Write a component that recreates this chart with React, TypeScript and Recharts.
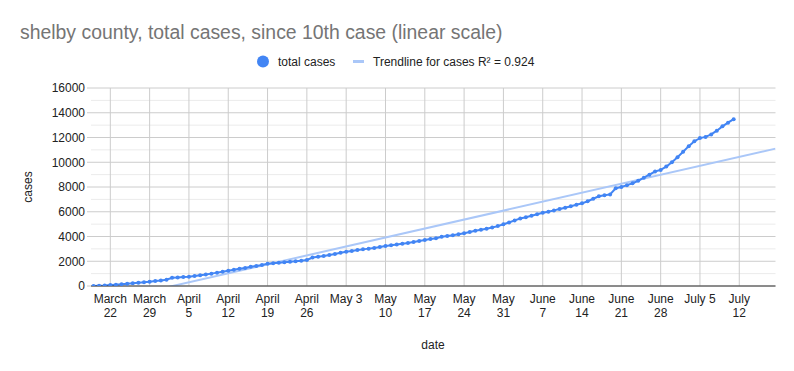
import React from "react";
import { LineChart, Line, XAxis, YAxis, CartesianGrid } from "recharts";

// daily total cases, starting March 19 (day 0 = 10th case)
const totalCases = [
  10, 25, 45, 80,
  110, 150, 190, 230, 270, 310, 350,
  400, 450, 500, 660, 690, 720, 750,
  800, 870, 930, 1000, 1080, 1160, 1240,
  1310, 1390, 1460, 1550, 1620, 1700, 1800,
  1840, 1880, 1920, 1960, 2000, 2040, 2100,
  2300, 2360, 2430, 2500, 2580, 2680, 2770,
  2830, 2900, 2960, 3020, 3080, 3150, 3230,
  3300, 3360, 3420, 3480, 3550, 3640, 3720,
  3790, 3860, 3980, 4040, 4100, 4180, 4260,
  4360, 4460, 4540, 4620, 4720, 4840, 4990,
  5130, 5300, 5450, 5560, 5680, 5800, 5920,
  6000, 6110, 6220, 6330, 6440, 6560, 6680,
  6850, 7050, 7250, 7330, 7400, 7900, 8000,
  8150, 8300, 8500, 8750, 9000, 9250, 9380,
  9650, 10000, 10400, 10850, 11300, 11700, 11950,
  12050, 12250, 12550, 12900, 13200, 13480,
];

const weekTicks = [3, 10, 17, 24, 31, 38, 45, 52, 59, 66, 73, 80, 87, 94, 101, 108, 115];
const weekLabels = [
  ["March", "22"], ["March", "29"], ["April", "5"], ["April", "12"], ["April", "19"],
  ["April", "26"], ["May 3"], ["May", "10"], ["May", "17"], ["May", "24"], ["May", "31"],
  ["June", "7"], ["June", "14"], ["June", "21"], ["June", "28"], ["July 5"], ["July", "12"],
];
const yTicks = [0, 2000, 4000, 6000, 8000, 10000, 12000, 14000, 16000];
const minorTicks = [1000, 3000, 5000, 7000, 9000, 11000, 13000, 15000];
const X_DOMAIN: [number, number] = [-0.44, 121.45];

const FONT = "'Liberation Sans', Arial, sans-serif";

const data = totalCases.map((cases, day) => ({ day, cases }));

// least squares trendline over the data
const fitLine = () => {
  const n = data.length;
  const mx = data.reduce((a, d) => a + d.day, 0) / n;
  const my = data.reduce((a, d) => a + d.cases, 0) / n;
  let sxy = 0;
  let sxx = 0;
  data.forEach((d) => {
    sxy += (d.day - mx) * (d.cases - my);
    sxx += (d.day - mx) * (d.day - mx);
  });
  const slope = sxy / sxx;
  const intercept = my - slope * mx;
  return [X_DOMAIN[0], X_DOMAIN[1]].map((day) => ({ day, trend: intercept + slope * day }));
};
const trendData = fitLine();

const DateTick = ({ x, y, index }: { x: number; y: number; index: number }) => {
  const lines = weekLabels[index] || [];
  return (
    <text textAnchor="middle" fill="#222" fontSize={12} fontFamily={FONT}>
      {lines.map((line, i) => (
        <tspan key={i} x={x} y={y + 9 + i * 14}>
          {line}
        </tspan>
      ))}
    </text>
  );
};

const App = () => {
  return (
    <div style={{ position: "absolute", left: 0, top: 0, width: 794, height: 371, background: "#fff" }}>
      <LineChart
        width={794}
        height={371}
        data={data}
        margin={{ top: 88, right: 18.5, left: 0, bottom: 0 }}
      >
        <CartesianGrid horizontalValues={minorTicks} vertical={false} stroke="#ebebeb" />
        <CartesianGrid horizontalValues={yTicks} verticalValues={weekTicks} stroke="#cccccc" />
        <XAxis
          dataKey="day"
          type="number"
          domain={X_DOMAIN}
          ticks={weekTicks}
          interval={0}
          allowDataOverflow
          tickLine={false}
          axisLine={{ stroke: "#333" }}
          height={85}
          tick={(props: any) => <DateTick {...props} />}
        />
        <YAxis
          type="number"
          domain={[0, 16000]}
          ticks={yTicks}
          interval={0}
          allowDataOverflow
          width={91}
          axisLine={false}
          tickLine={{ stroke: "#cccccc" }}
          tickSize={4}
          tickMargin={2}
          tick={{ fill: "#222", fontSize: 12, fontFamily: FONT }}
        />
        <Line
          data={trendData}
          dataKey="trend"
          type="linear"
          stroke="#aac7f8"
          strokeWidth={2}
          dot={false}
          activeDot={false}
          isAnimationActive={false}
        />
        <Line
          dataKey="cases"
          type="linear"
          stroke="#4285f4"
          strokeWidth={2}
          dot={{ r: 2, fill: "#4285f4", stroke: "none" }}
          activeDot={false}
          isAnimationActive={false}
        />
      </LineChart>
      <svg
        width={794}
        height={371}
        style={{ position: "absolute", left: 0, top: 0, pointerEvents: "none" }}
        fontFamily={FONT}
      >
        <text x={20} y={39} fontSize={19.4} fill="#757575">
          shelby county, total cases, since 10th case (linear scale)
        </text>
        <circle cx={263} cy={61.5} r={6} fill="#4285f4" />
        <text x={278} y={66} fontSize={12} fill="#222">
          total cases
        </text>
        <rect x={353} y={60} width={11} height={3} fill="#aac7f8" />
        <text x={373} y={66} fontSize={12} fill="#222">
          Trendline for cases R² = 0.924
        </text>
        <text x={32} y={187} fontSize={12} fill="#222" textAnchor="middle" transform="rotate(-90 32 187)">
          cases
        </text>
        <text x={433} y={349} fontSize={12} fill="#222" textAnchor="middle">
          date
        </text>
      </svg>
    </div>
  );
};

export default App;
